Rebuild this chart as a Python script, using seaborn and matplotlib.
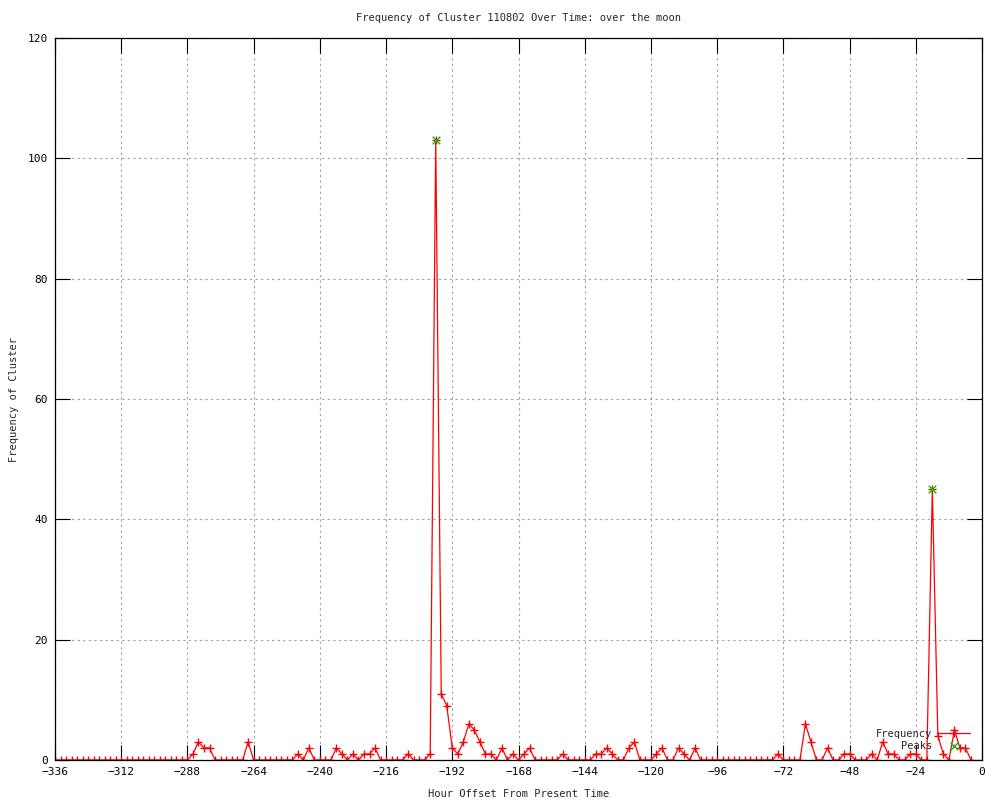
#!/usr/bin/env python3
import numpy as np
import pandas as pd
import seaborn as sns
import matplotlib
matplotlib.use("Agg")
import matplotlib.pyplot as plt

# hour offsets, one bin every 2 hours (-336 ... -4)
hours = list(range(-336, -3, 2))

# frequency per 2-hour bin (12 bins per 24 hours)
frequency = [
    0, 0, 0, 0, 0, 0, 0, 0, 0, 0, 0, 0,        # -336 .. -314
    0, 0, 0, 0, 0, 0, 0, 0, 0, 0, 0, 0,        # -312 .. -290
    0, 1, 3, 2, 2, 0, 0, 0, 0, 0, 0, 3,        # -288 .. -266
    0, 0, 0, 0, 0, 0, 0, 0, 1, 0, 2, 0,        # -264 .. -242
    0, 0, 0, 2, 1, 0, 1, 0, 1, 1, 2, 0,        # -240 .. -218
    0, 0, 0, 0, 1, 0, 0, 0, 1, 103, 11, 9,     # -216 .. -194
    2, 1, 3, 6, 5, 3, 1, 1, 0, 2, 0, 1,        # -192 .. -170
    0, 1, 2, 0, 0, 0, 0, 0, 1, 0, 0, 0,        # -168 .. -146
    0, 0, 1, 1, 2, 1, 0, 0, 2, 3, 0, 0,        # -144 .. -122
    0, 1, 2, 0, 0, 2, 1, 0, 2, 0, 0, 0,        # -120 .. -98
    0, 0, 0, 0, 0, 0, 0, 0, 0, 0, 0, 1,        # -96 .. -74
    0, 0, 0, 0, 6, 3, 0, 0, 2, 0, 0, 1,        # -72 .. -50
    1, 0, 0, 0, 1, 0, 3, 1, 1, 0, 0, 1,        # -48 .. -26
    1, 0, 0, 45, 4, 1, 0, 5, 2, 2, 0,          # -24 .. -4
]

peak_hours = [-198, -18]
peak_values = [103, 45]

x_ticks = list(range(-336, 1, 24))
y_ticks = list(range(0, 121, 20))

title = "Frequency of Cluster 110802 Over Time: over the moon"

df = pd.DataFrame({"hour": hours, "frequency": frequency})
peaks = pd.DataFrame({"hour": peak_hours, "frequency": peak_values})

sns.set_theme(style="ticks")
plt.rcParams["font.family"] = ["DejaVu Sans Mono", "DejaVu Sans"]
plt.rcParams["font.size"] = 7.5

fig = plt.figure(figsize=(10, 8), dpi=100)
ax = fig.add_axes([0.055, 0.05, 0.927, 0.9025])

sns.lineplot(data=df, x="hour", y="frequency", ax=ax, color="#ff0000",
             linewidth=0.9, marker="+", markersize=6, markeredgewidth=1.0,
             markeredgecolor="#ff0000", label="Frequency")
sns.scatterplot(data=peaks, x="hour", y="frequency", ax=ax, color="#00c000",
                marker="x", s=30, linewidth=1.0, label="Peaks", zorder=3)

ax.set_xlim(-336, 0)
ax.set_ylim(0, 120)
ax.set_xticks(x_ticks)
ax.set_yticks(y_ticks)
ax.grid(True, linestyle=(0, (2, 3)), color="#a0a0a0", linewidth=0.8)
ax.tick_params(direction="in", length=11, width=0.8, top=True, right=True,
               labelsize=8, pad=5, colors="black")
for s in ax.spines.values():
    s.set_color("black")
    s.set_linewidth(0.9)

ax.set_title(title, fontsize=7.5, pad=12)
ax.set_xlabel("Hour Offset From Present Time", fontsize=7.5, labelpad=9)
ax.set_ylabel("Frequency of Cluster", fontsize=7.5, labelpad=6)

ax.legend(loc="lower right", bbox_to_anchor=(0.987, 0.013), frameon=False,
          markerfirst=False, fontsize=7.5, handlelength=3.1,
          handletextpad=0.5, labelspacing=0.2, borderpad=0, borderaxespad=0)

fig.savefig("out.png", dpi=100)
